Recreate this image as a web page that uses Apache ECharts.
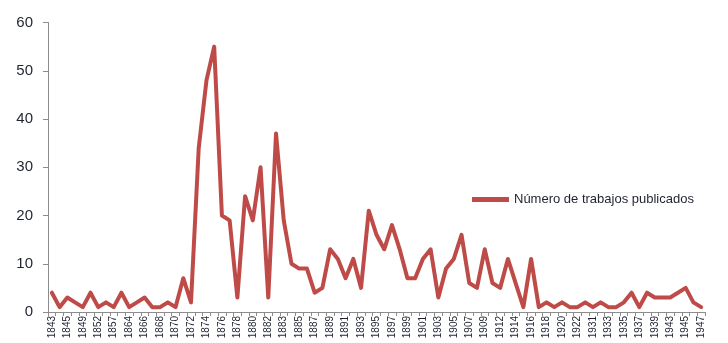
<!DOCTYPE html>
<html>
<head>
<meta charset="utf-8">
<script src="https://cdn.jsdelivr.net/npm/echarts@6/dist/echarts.min.js"></script>
<style>
  html, body { margin: 0; padding: 0; background: #fff; }
  #chart { width: 728px; height: 343px; }
</style>
</head>
<body>
<div id="chart"></div>
<script>
// Years on the category axis (every other one is labelled)
const years = [
  '1843', '1844', '1845', '1847', '1849', '1850', '1852', '1854', '1857', '1860',
  '1864', '1865', '1866', '1867', '1868', '1869', '1870', '1871', '1872', '1873',
  '1874', '1875', '1876', '1877', '1878', '1879', '1880', '1881', '1882', '1882/83',
  '1883', '1884', '1885', '1886', '1887', '1888', '1889', '1890', '1891', '1892',
  '1893', '1894', '1895', '1896', '1897', '1898', '1899', '1900', '1901', '1902',
  '1903', '1904', '1905', '1906', '1907', '1908', '1909', '1910', '1912', '1913',
  '1914', '1915', '1916', '1917', '1918', '1919', '1920', '1921', '1922', '1925',
  '1931', '1932', '1933', '1934', '1935', '1936', '1937', '1938', '1939', '1941',
  '1943', '1944', '1945', '1946', '1947'
];

// Number of published works per year
const publicados = [
  4, 1, 3, 2, 1, 4, 1, 2, 1, 4,
  1, 2, 3, 1, 1, 2, 1, 7, 2, 34,
  48, 55, 20, 19, 3, 24, 19, 30, 3, 37,
  19, 10, 9, 9, 4, 5, 13, 11, 7, 11,
  5, 21, 16, 13, 18, 13, 7, 7, 11, 13,
  3, 9, 11, 16, 6, 5, 13, 6, 5, 11,
  6, 1, 11, 1, 2, 1, 2, 1, 1, 2,
  1, 2, 1, 1, 2, 4, 1, 4, 3, 3,
  3, 4, 5, 2, 1
];

const yTicks = { min: 0, max: 60, step: 10 };
const seriesName = 'Número de trabajos publicados';

const chart = echarts.init(document.getElementById('chart'), null, { renderer: 'canvas' });
const font = '"Liberation Sans", Arial, sans-serif';

chart.setOption({
  animation: false,
  backgroundColor: '#ffffff',
  textStyle: { fontFamily: font },
  grid: { left: 48, right: 23, top: 22.5, bottom: 31, containLabel: false },
  legend: {
    show: true,
    left: 467,
    top: 188,
    icon: 'rect',
    itemWidth: 37,
    itemHeight: 5,
    textStyle: { fontSize: 13, color: '#1f2330', fontFamily: font },
    data: [seriesName]
  },
  xAxis: {
    type: 'category',
    data: years,
    boundaryGap: true,
    axisLine: { show: true, lineStyle: { color: '#8c8c8c', width: 1 } },
    axisTick: { show: true, interval: 0, length: 4, lineStyle: { color: '#8c8c8c' } },
    axisLabel: {
      interval: 1,
      rotate: 90,
      fontSize: 10,
      margin: 4,
      color: '#1f2330',
      fontFamily: font
    },
    splitLine: { show: false }
  },
  yAxis: {
    type: 'value',
    min: yTicks.min,
    max: yTicks.max,
    interval: yTicks.step,
    axisLine: { show: true, lineStyle: { color: '#8c8c8c', width: 1 } },
    axisTick: { show: true, length: 5, lineStyle: { color: '#8c8c8c' } },
    axisLabel: { fontSize: 15, margin: 15, color: '#1f2330', fontFamily: font },
    splitLine: { show: false }
  },
  series: [{
    name: seriesName,
    type: 'line',
    data: publicados,
    symbol: 'none',
    smooth: false,
    itemStyle: { color: '#BE4B48' },
    lineStyle: { color: '#BE4B48', width: 4, join: 'round', cap: 'round' }
  }]
});
</script>
</body>
</html>
